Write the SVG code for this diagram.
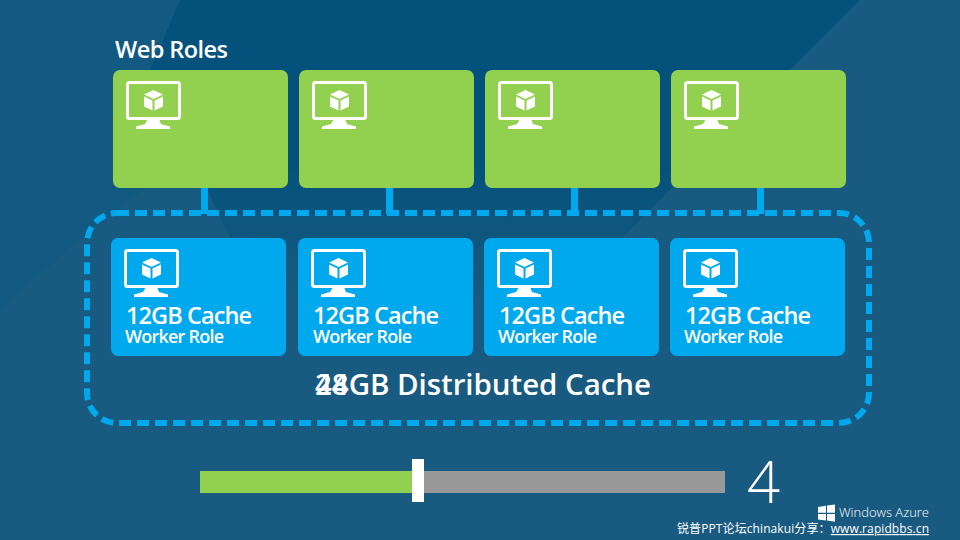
<svg xmlns="http://www.w3.org/2000/svg" width="960" height="540" viewBox="0 0 960 540">
<style>
text{font-family:"Open Sans","Noto Sans CJK SC",sans-serif;fill:#fff}
.g{fill:#91d14f}.b{fill:#00a8ee}
.t1{font-size:23.500px;font-weight:600}
.t2{font-size:18px;font-weight:600}
.big{font-size:29.500px;font-weight:600}
</style>
<defs>
<linearGradient id="fade" gradientUnits="userSpaceOnUse" x1="0" y1="0" x2="0" y2="300"><stop offset="0" stop-color="#04527c"/><stop offset=".55" stop-color="#04527c"/><stop offset="1" stop-color="#04527c" stop-opacity="0"/></linearGradient>
<g id="ic">
<rect x="1.500" y="1.500" width="52" height="36" rx="2" fill="none" stroke="#fff" stroke-width="3"/>
<path d="M22 38h11l2 5 9 2.500v2.500H10v-2.500l9-2.500z" fill="#fff"/>
<path d="M27.500 9l9.500 4.500-9.500 4.500-9.500-4.500z" fill="#fff"/>
<path d="M18 15.500l8.500 4v10l-8.500-4z M37 15.500l-8.500 4v10l8.500-4z" fill="#fff"/>
</g>
</defs>
<rect width="960" height="540" fill="#185a80"/>
<path d="M0 0H350L250 110 90 230 0 310z" fill="#125a82"/>
<path d="M180 0H860L560 300H260L150 70z" fill="url(#fade)"/>
<text x="115" y="58" textLength="113" style="font-size:23.500px;font-weight:600">Web Roles</text>
<g id="connectors" fill="#00a8ee">
<rect x="201" y="188" width="7" height="26"/>
<rect x="386" y="188" width="7" height="26"/>
<rect x="571" y="188" width="7" height="26"/>
<rect x="757" y="188" width="7" height="26"/>
</g>
<rect id="boundary" x="87" y="213" width="782" height="210" rx="30" fill="none" stroke="#00a8ee" stroke-width="6" stroke-dasharray="12 6"/>
<g id="web1"><rect class="g" x="113" y="70" width="175" height="118" rx="7"/><use href="#ic" x="126" y="81"/></g>
<g id="web2"><rect class="g" x="299" y="70" width="175" height="118" rx="7"/><use href="#ic" x="312" y="81"/></g>
<g id="web3"><rect class="g" x="485" y="70" width="175" height="118" rx="7"/><use href="#ic" x="498" y="81"/></g>
<g id="web4"><rect class="g" x="671" y="70" width="175" height="118" rx="7"/><use href="#ic" x="684" y="81"/></g>
<g id="worker1"><rect class="b" x="111" y="238" width="175" height="118" rx="7"/><use href="#ic" x="124" y="249"/><text class="t1" x="126" y="324" textLength="126">12GB Cache</text><text class="t2" x="125" y="343" textLength="99">Worker Role</text></g>
<g id="worker2"><rect class="b" x="298" y="238" width="175" height="118" rx="7"/><use href="#ic" x="311" y="249"/><text class="t1" x="313" y="324" textLength="126">12GB Cache</text><text class="t2" x="313" y="343" textLength="99">Worker Role</text></g>
<g id="worker3"><rect class="b" x="484" y="238" width="175" height="118" rx="7"/><use href="#ic" x="497" y="249"/><text class="t1" x="499" y="324" textLength="126">12GB Cache</text><text class="t2" x="498" y="343" textLength="99">Worker Role</text></g>
<g id="worker4"><rect class="b" x="670" y="238" width="175" height="118" rx="7"/><use href="#ic" x="683" y="249"/><text class="t1" x="685" y="324" textLength="126">12GB Cache</text><text class="t2" x="684" y="343" textLength="99">Worker Role</text></g>
<g id="total">
<text class="big" x="315" y="395">24</text>
<text class="big" x="315" y="395" textLength="336">48GB Distributed Cache</text>
</g>
<g id="slider">
<rect x="200" y="471" width="525" height="22" fill="#999"/>
<rect x="200" y="471" width="212" height="22" class="g"/>
<rect x="412" y="459" width="12" height="43" fill="#fff"/>
</g>
<text x="747" y="503" style="font-size:58px;font-weight:300">4</text>
<g id="logo" fill="#fff">
<path d="M818 507l8-1.200v7h-8z M827 505.600l8-1.200v8.400h-8z M818 514h8v6.500l-8-1.100z M827 514h8v7.700l-8-1.100z"/>
<text x="839" y="517" textLength="90" style="font-size:13px;font-weight:300">Windows Azure</text>
</g>
<text x="677" y="533" textLength="252" style="font-size:12px">锐普PPT论坛chinakui分享：<tspan text-decoration="underline">www.rapidbbs.cn</tspan></text>
</svg>
